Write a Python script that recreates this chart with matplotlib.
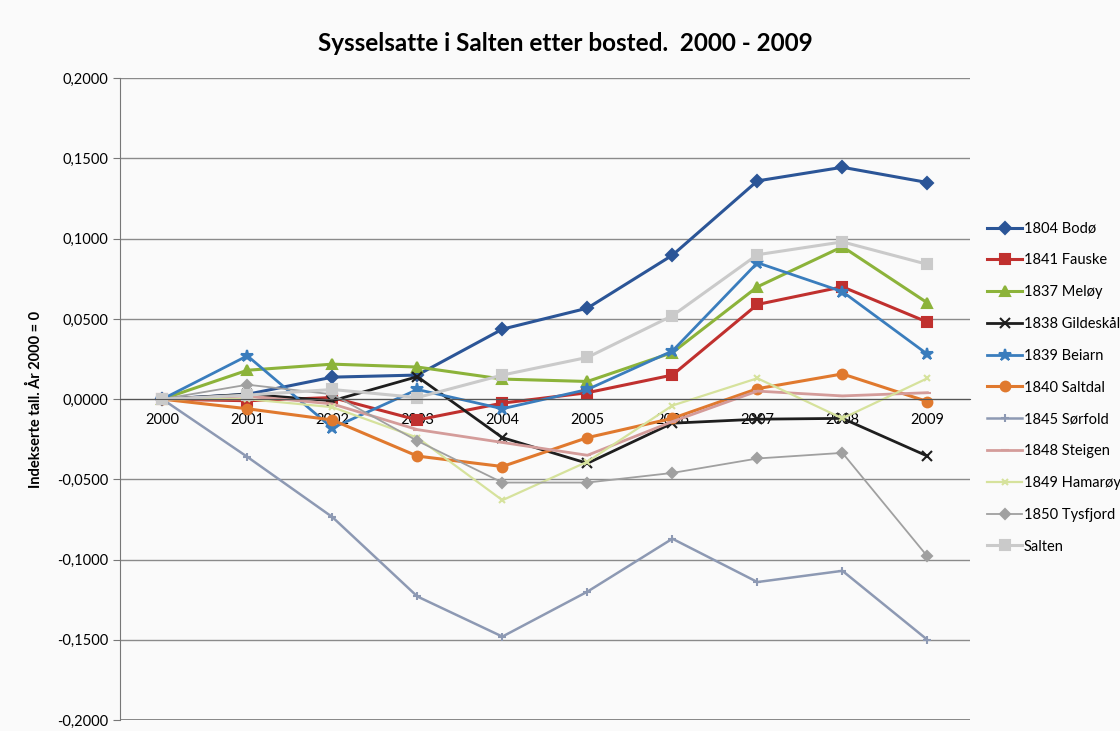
import matplotlib.pyplot as plt
from matplotlib.ticker import FuncFormatter

plt.rcParams['font.family'] = ['Lato', 'DejaVu Sans']

# Indexed employment by place of residence, year 2000 = 0
years = ['2000', '2001', '2002', '2003', '2004', '2005', '2006', '2007', '2008', '2009']

bodo      = [0, 0.003, 0.0137, 0.015, 0.0436, 0.0567, 0.0897, 0.136, 0.1445, 0.135]
fauske    = [0, -0.001, 0.001, -0.013, -0.0025, 0.004, 0.015, 0.059, 0.070, 0.048]
meloy     = [0, 0.018, 0.0218, 0.020, 0.0125, 0.011, 0.029, 0.070, 0.095, 0.060]
gildeskal = [0, 0.003, -0.001, 0.014, -0.024, -0.040, -0.015, -0.0125, -0.012, -0.0355]
beiarn    = [0, 0.027, -0.018, 0.006, -0.006, 0.006, 0.030, 0.085, 0.067, 0.028]
saltdal   = [0, -0.006, -0.013, -0.0355, -0.042, -0.024, -0.012, 0.0065, 0.0157, -0.0015]
sorfold   = [0, -0.036, -0.0735, -0.123, -0.148, -0.120, -0.087, -0.114, -0.107, -0.150]
steigen   = [0, 0.002, -0.003, -0.019, -0.027, -0.035, -0.014, 0.005, 0.002, 0.004]
hamaroy   = [0, 0.0, -0.005, -0.024, -0.063, -0.039, -0.004, 0.013, -0.012, 0.013]
tysfjord  = [0, 0.009, 0.003, -0.026, -0.052, -0.052, -0.046, -0.037, -0.0335, -0.098]
salten    = [0, 0.0025, 0.006, 0.001, 0.015, 0.026, 0.052, 0.090, 0.098, 0.084]

series = [
    ('1804 Bodø', bodo, '#2B5597', 'D', 2.2, 6),
    ('1841 Fauske', fauske, '#C0302E', 's', 2.2, 7),
    ('1837 Meløy', meloy, '#8CB33A', '^', 2.2, 7),
    ('1838 Gildeskål', gildeskal, '#1E1E1E', 'x', 2.0, 7),
    ('1839 Beiarn', beiarn, '#3A7DBD', '*', 2.0, 9),
    ('1840 Saltdal', saltdal, '#E0792E', 'o', 2.2, 7),
    ('1845 Sørfold', sorfold, '#8D99B3', '+', 1.8, 6),
    ('1848 Steigen', steigen, '#D49C9A', '_', 2.0, 6),
    ('1849 Hamarøy', hamaroy, '#D6E29C', 'x', 1.6, 5),
    ('1850 Tysfjord', tysfjord, '#A0A0A0', 'D', 1.3, 5),
    ('Salten', salten, '#CACACA', 's', 2.2, 7),
]

fig = plt.figure(figsize=(11.2, 7.31), dpi=100, facecolor='#fafafa')
ax = fig.add_axes([0.107, 0.015, 0.759, 0.878])
ax.set_facecolor('#fafafa')

x = list(range(len(years)))
for name, vals, color, marker, lw, ms in series:
    ax.plot(x, vals, color=color, marker=marker, lw=lw, ms=ms, label=name,
            markeredgecolor=color, markeredgewidth=1.5)

ax.set_xlim(-0.5, len(years) - 0.5)
ax.set_ylim(-0.2, 0.2)
ax.set_yticks([-0.2, -0.15, -0.1, -0.05, 0, 0.05, 0.1, 0.15, 0.2])
ax.yaxis.set_major_formatter(FuncFormatter(lambda v, p: f'{v:.4f}'.replace('.', ',')))
ax.grid(axis='y', color='#8a8a8a', lw=1)
ax.set_axisbelow(True)

ax.set_xticks(x)
ax.set_xticklabels(years)
ax.spines['bottom'].set_position(('data', 0))
ax.spines['bottom'].set_color('#555555')
ax.spines['top'].set_visible(False)
ax.spines['right'].set_visible(False)
ax.spines['left'].set_color('#777777')
ax.tick_params(axis='x', length=0, pad=10, labelsize=10.5)
ax.tick_params(axis='y', length=5, labelsize=10.5, color='#777777')
ax.axhline(-0.2, color='#777777', lw=1.2)

ax.set_ylabel('Indekserte tall. År 2000 = 0', fontsize=10.5, fontweight='bold', labelpad=10)
fig.text(0.505, 0.94, 'Sysselsatte i Salten etter bosted.  2000 - 2009',
         ha='center', va='center', fontsize=17.5, fontweight='bold')

ax.legend(loc='upper left', bbox_to_anchor=(1.005, 0.797), frameon=False,
          fontsize=10.5, handlelength=2.4, handletextpad=0.1, labelspacing=1.22)

fig.savefig('out.png', dpi=100, facecolor=fig.get_facecolor())
